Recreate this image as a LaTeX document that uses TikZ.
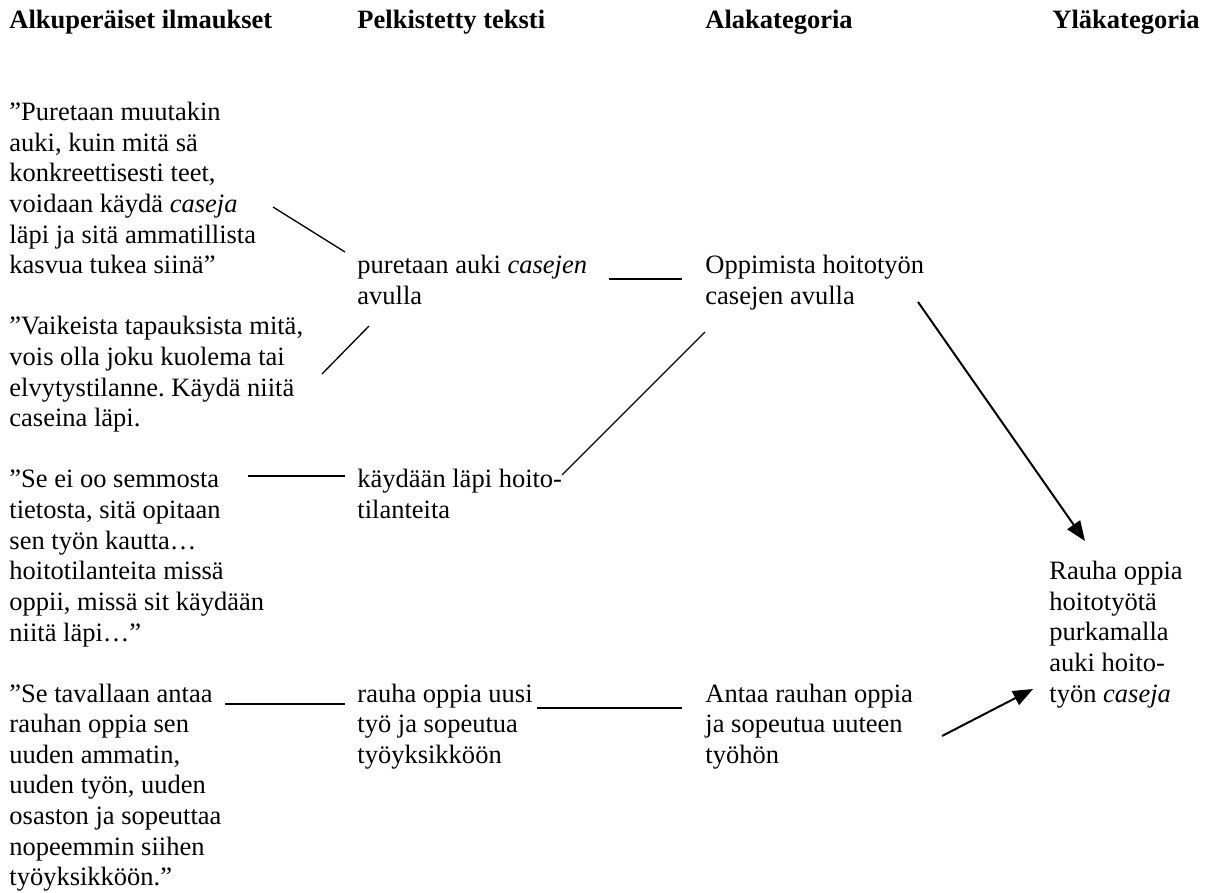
\documentclass[tikz,border=0pt]{standalone}
\usepackage{fontspec}
\setmainfont{Liberation Serif}
\usetikzlibrary{arrows.meta}
\frenchspacing

\begin{document}
\begin{tikzpicture}[x=0.4528pt, y=-0.4528pt,
    every node/.style = {anchor=base west, align=left, inner sep=0pt, font=\fontsize{12}{13.86}\selectfont},
    head/.style = {font=\fontsize{12}{13.86}\selectfont\bfseries},
    link/.style = {line width=0.6pt},
    arr/.style = {line width=0.9pt, -{Triangle[length=9pt,width=7pt]}}]
  \useasboundingbox (0,0) rectangle (1208,893);
  \node [head] (hOrig) at (9,29) {Alkuperäiset ilmaukset};
  \node [head] (hPelk) at (357,29) {Pelkistetty teksti};
  \node [head] (hAla) at (705,29) {Alakategoria};
  \node [head] (hYla) at (1052,29) {Yläkategoria};

  \node (q1) at (9,273.8) {”Puretaan muutakin\\auki, kuin mitä sä\\konkreettisesti teet,\\voidaan käydä \textit{caseja}\\läpi ja sitä ammatillista\\kasvua tukea siinä”};
  \node (q2) at (9,426.8) {”Vaikeista tapauksista mitä,\\vois olla joku kuolema tai\\elvytystilanne. Käydä niitä\\caseina läpi.};
  \node (q3) at (9,641) {”Se ei oo semmosta\\tietosta, sitä opitaan\\sen työn kautta…\\hoitotilanteita missä\\oppii, missä sit käydään\\niitä läpi…”};
  \node (q4) at (9,885.8) {”Se tavallaan antaa\\rauhan oppia sen\\uuden ammatin,\\uuden työn, uuden\\osaston ja sopeuttaa\\nopeemmin siihen\\työyksikköön.”};

  \node (p1) at (357,304.4) {puretaan auki \textit{casejen}\\avulla};
  \node (p2) at (357,518.6) {käydään läpi hoito-\\tilanteita};
  \node (p3) at (357,763.4) {rauha oppia uusi\\työ ja sopeutua\\työyksikköön};

  \node (a1) at (705,304.4) {Oppimista hoitotyön\\casejen avulla};
  \node (a2) at (705,763.4) {Antaa rauhan oppia\\ja sopeutua uuteen\\työhön};

  \node (y1) at (1049,702.2) {Rauha oppia\\hoitotyötä\\purkamalla\\auki hoito-\\työn \textit{caseja}};

  \coordinate (q1e) at (273,207);   \coordinate (p1a) at (345,252);
  \coordinate (q2e) at (322,374);   \coordinate (p1b) at (369,326);
  \coordinate (p1e) at (609,279);   \coordinate (a1w) at (682,279);
  \coordinate (p2e) at (562,475);   \coordinate (a1b) at (705,332);
  \coordinate (q3e) at (248,476);   \coordinate (p2w) at (345,476);
  \coordinate (q4e) at (225,704);   \coordinate (p3w) at (345,704);
  \coordinate (p3e) at (537,708);   \coordinate (a2w) at (682,708);
  \coordinate (a1e) at (918,302);   \coordinate (y1n) at (1085,541);
  \coordinate (a2e) at (942,736);   \coordinate (y1w) at (1033,689);

  \draw [link] (q1e) -- (p1a);
  \draw [link] (q2e) -- (p1b);
  \draw [link] (p1e) -- (a1w);
  \draw [link] (p2e) -- (a1b);
  \draw [link] (q3e) -- (p2w);
  \draw [link] (q4e) -- (p3w);
  \draw [link] (p3e) -- (a2w);
  \draw [arr] (a1e) -- (y1n);
  \draw [arr] (a2e) -- (y1w);
\end{tikzpicture}
\end{document}
